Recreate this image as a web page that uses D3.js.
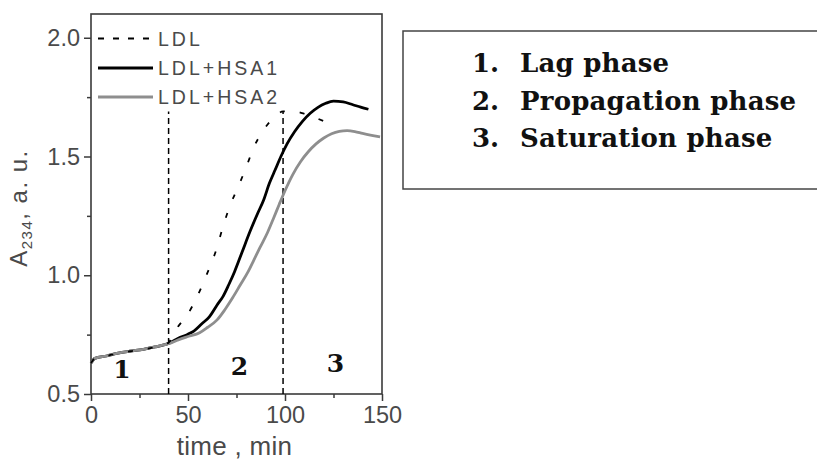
<!DOCTYPE html>
<html>
<head>
<meta charset="utf-8">
<script src="https://cdn.jsdelivr.net/npm/d3@7/dist/d3.min.js"></script>
<style>
  html, body { margin: 0; padding: 0; background: #fff; }
  svg { display: block; }
</style>
</head>
<body>
<svg id="chart" width="817" height="462"></svg>
<script>
// Conjugated diene formation (A234) during LDL oxidation
const timeLDL = [0, 2, 8, 14, 20, 27, 33, 38, 40, 42, 45, 49, 55, 60, 65, 68, 72, 76, 80, 84, 88, 91, 95, 99, 104, 110, 116, 122];
const valLDL  = [0.630, 0.650, 0.660, 0.672, 0.680, 0.688, 0.698, 0.710, 0.716, 0.742, 0.785, 0.825, 0.915, 1.010, 1.118, 1.204, 1.300, 1.375, 1.455, 1.540, 1.600, 1.635, 1.670, 1.690, 1.690, 1.680, 1.662, 1.642];

const timeHSA1 = [0, 2, 8, 14, 20, 27, 33, 38, 40, 45, 50, 53, 57, 61, 65, 68, 71, 74, 78, 82, 86, 89, 92, 95, 98, 101, 105, 109, 113, 117, 121, 125, 130, 135, 139, 143];
const valHSA1  = [0.630, 0.650, 0.660, 0.672, 0.680, 0.688, 0.698, 0.708, 0.713, 0.735, 0.752, 0.765, 0.795, 0.825, 0.875, 0.910, 0.960, 1.015, 1.100, 1.185, 1.262, 1.317, 1.388, 1.445, 1.502, 1.552, 1.605, 1.648, 1.682, 1.707, 1.724, 1.733, 1.730, 1.718, 1.708, 1.699];

const timeHSA2 = [0, 2, 8, 14, 20, 27, 33, 38, 40, 45, 50, 56, 60, 65, 69, 73, 77, 81, 84, 87, 91, 94, 97, 100, 104, 108, 112, 116, 120, 124, 128, 132, 136, 140, 144, 149];
const valHSA2  = [0.630, 0.650, 0.660, 0.672, 0.680, 0.688, 0.698, 0.708, 0.712, 0.728, 0.742, 0.758, 0.780, 0.812, 0.855, 0.905, 0.960, 1.015, 1.065, 1.115, 1.180, 1.238, 1.298, 1.356, 1.424, 1.478, 1.520, 1.553, 1.578, 1.596, 1.606, 1.609, 1.605, 1.597, 1.590, 1.583];

const seriesNames = ["LDL", "LDL+HSA1", "LDL+HSA2"];

const xMajorTicks = [0, 50, 100, 150];
const xMinorTicks = [25, 75, 125];
const yMajorTicks = [0.5, 1.0, 1.5, 2.0];
const yMinorTicks = [0.75, 1.25, 1.75];

// phase boundaries (min) and the level they reach
const phaseBounds = [40, 99];
const phaseTop = 1.69;

// phase numbers placed inside the plot: [label, time, level]
const phaseLabels = ["1", "2", "3"];
const phaseLabelTime = [16, 76.5, 126];
const phaseLabelLevel = [0.567, 0.58, 0.593];

const phaseNames = ["Lag phase", "Propagation phase", "Saturation phase"];

const svg = d3.select("#chart");

const x = d3.scaleLinear().domain([0, 150]).range([91, 382]);
const y = d3.scaleLinear().domain([0.5, 2.1]).range([394, 14]);

const axisColor = "#3a3a3a";
const labelColor = "#4a4a4a";
const sansFont = "'Liberation Sans', Arial, sans-serif";
const serifFont = "'DejaVu Serif', serif";

// ----- axes -----
function styleAxis(g) {
  g.select(".domain").remove();
  g.selectAll("line").attr("stroke", axisColor).attr("stroke-width", 1.5);
  g.selectAll("text")
    .attr("fill", labelColor)
    .style("font-family", sansFont)
    .style("font-size", "23.5px");
}

svg.append("g")
  .attr("transform", `translate(${x.range()[0]},0)`)
  .call(d3.axisLeft(y).tickValues(yMajorTicks).tickFormat(d3.format(".1f")).tickSize(7).tickPadding(4))
  .call(styleAxis);

svg.append("g")
  .attr("transform", `translate(${x.range()[0]},0)`)
  .call(d3.axisLeft(y).tickValues(yMinorTicks).tickFormat("").tickSize(4))
  .call(styleAxis);

svg.append("g")
  .attr("transform", `translate(0,${y.range()[0]})`)
  .call(d3.axisBottom(x).tickValues(xMajorTicks).tickSize(7).tickPadding(5))
  .call(styleAxis);

svg.append("g")
  .attr("transform", `translate(0,${y.range()[0]})`)
  .call(d3.axisBottom(x).tickValues(xMinorTicks).tickFormat("").tickSize(4))
  .call(styleAxis);

// plot frame
svg.append("rect")
  .attr("x", x.range()[0]).attr("y", y.range()[1])
  .attr("width", x.range()[1] - x.range()[0])
  .attr("height", y.range()[0] - y.range()[1])
  .attr("fill", "none").attr("stroke", axisColor).attr("stroke-width", 1.6);

// axis titles
svg.append("text")
  .attr("x", (x.range()[0] + x.range()[1]) / 2 - 2)
  .attr("y", 455)
  .attr("text-anchor", "middle")
  .attr("fill", labelColor)
  .style("font-family", sansFont)
  .style("font-size", "26px")
  .style("letter-spacing", "0.3px")
  .text("time , min");

const yTitle = svg.append("text")
  .attr("transform", "translate(27,208) rotate(-90)")
  .attr("text-anchor", "middle")
  .attr("fill", labelColor)
  .style("font-family", sansFont)
  .style("font-size", "24px")
  .style("letter-spacing", "1.5px");
yTitle.append("tspan").text("A");
yTitle.append("tspan").attr("baseline-shift", "-30%").style("font-size", "15px").text("234");
yTitle.append("tspan").text(", a. u.");

// ----- phase boundaries -----
svg.append("g").selectAll("line")
  .data(phaseBounds)
  .join("line")
  .attr("x1", d => x(d)).attr("x2", d => x(d))
  .attr("y1", y(0.5)).attr("y2", y(phaseTop))
  .attr("stroke", "#000").attr("stroke-width", 1.5)
  .attr("stroke-dasharray", "6,4");

// ----- curves -----
const line = d3.line().x(d => x(d[0])).y(d => y(d[1])).curve(d3.curveMonotoneX);
const zip = (t, v) => t.map((d, i) => [d, v[i]]);

svg.append("path")
  .datum(zip(timeHSA1, valHSA1))
  .attr("d", line)
  .attr("fill", "none").attr("stroke", "#000").attr("stroke-width", 2.8)
  .attr("stroke-linejoin", "round");

svg.append("path")
  .datum(zip(timeHSA2, valHSA2))
  .attr("d", line)
  .attr("fill", "none").attr("stroke", "#8e8e8e").attr("stroke-width", 2.8)
  .attr("stroke-linejoin", "round");

svg.append("path")
  .datum(zip(timeLDL, valLDL))
  .attr("d", line)
  .attr("fill", "none").attr("stroke", "#000").attr("stroke-width", 1.8)
  .attr("stroke-dasharray", "5,15");

// ----- phase numbers -----
svg.append("g").selectAll("text")
  .data(phaseLabels)
  .join("text")
  .attr("x", (d, i) => x(phaseLabelTime[i]))
  .attr("y", (d, i) => y(phaseLabelLevel[i]))
  .attr("text-anchor", "middle")
  .attr("fill", "#111")
  .style("font-family", serifFont)
  .style("font-weight", "bold")
  .style("font-size", "25px")
  .text(d => d);

// ----- legend -----
const legendStyles = [
  { stroke: "#000", width: 1.8, dash: "6,9" },
  { stroke: "#000", width: 3, dash: null },
  { stroke: "#8e8e8e", width: 3, dash: null }
];
const legendRowY = [38.5, 68, 97];
const legend = svg.append("g");
const rows = legend.selectAll("g")
  .data(seriesNames)
  .join("g")
  .attr("transform", (d, i) => `translate(98,${legendRowY[i]})`);
rows.append("line")
  .attr("x1", 0).attr("x2", 55).attr("y1", 0).attr("y2", 0)
  .attr("stroke", (d, i) => legendStyles[i].stroke)
  .attr("stroke-width", (d, i) => legendStyles[i].width)
  .attr("stroke-dasharray", (d, i) => legendStyles[i].dash);
rows.append("text")
  .attr("x", 60).attr("y", 0).attr("dy", "0.36em")
  .attr("fill", labelColor)
  .style("font-family", sansFont)
  .style("font-size", "19.5px")
  .style("letter-spacing", "3px")
  .text(d => d);

// ----- phase description box -----
svg.append("rect")
  .attr("x", 403).attr("y", 31)
  .attr("width", 430).attr("height", 158)
  .attr("fill", "none").attr("stroke", "#444").attr("stroke-width", 1.5);

const boxRowY = [72, 109.5, 147];
const boxRows = svg.append("g").selectAll("g")
  .data(phaseNames)
  .join("g")
  .attr("transform", (d, i) => `translate(0,${boxRowY[i]})`);
boxRows.append("text")
  .attr("x", 472)
  .attr("fill", "#111")
  .style("font-family", serifFont)
  .style("font-weight", "bold")
  .style("font-size", "26px")
  .text((d, i) => `${i + 1}.`);
boxRows.append("text")
  .attr("x", 520)
  .attr("fill", "#111")
  .style("font-family", serifFont)
  .style("font-weight", "bold")
  .style("font-size", "26px")
  .style("letter-spacing", "0.2px")
  .text(d => d);
</script>
</body>
</html>
